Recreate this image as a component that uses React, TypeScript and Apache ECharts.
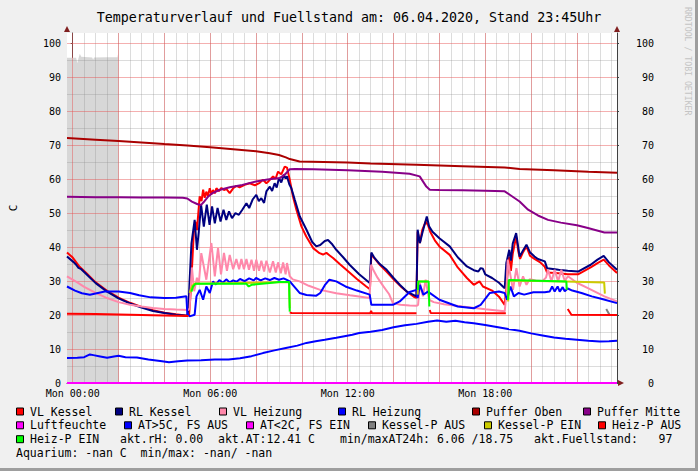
import React, { useEffect, useRef } from 'react';
import * as echarts from 'echarts';

const TITLE = 'Temperaturverlauf und Fuellstand am: 06.04.2020, Stand 23:45Uhr';
const WATERMARK = 'RRDTOOL / TOBI OETIKER';
const UNIT = 'C';
const T_START = -0.25;
const T_END = 23.75;
const Y_MAX = 103;
const xLabelHours = [0, 6, 12, 18];
const xLabelText = ['Mon 00:00', 'Mon 06:00', 'Mon 12:00', 'Mon 18:00'];
const yTickValues = [0, 10, 20, 30, 40, 50, 60, 70, 80, 90, 100];

// [hour, value] pairs
const fuellstand = [[-0.25,95.7],[0.15,95.7],[0.2,94.1],[0.25,95.6],[0.31,96.9],[0.37,96.0],[0.85,95.8],[0.89,95.1],[0.93,95.8],[1.5,95.9],[1.95,95.9],[1.98,96.9],[2.0,96.9]];

const vlKessel = [[-0.25,38.4],[0,36.9],[0.3,34.2],[0.6,32.3],[1.0,29.6],[1.5,27.1],[2.0,25.1],[2.5,23.6],[3.0,22.4],[3.5,21.4],[4.0,20.7],[4.5,20.2],[5.0,19.8],[5.08,20.2],[5.15,27],[5.22,36],[5.28,44],[5.35,47.5],[5.42,45],[5.54,54.9],[5.62,53.5],[5.69,56.9],[5.76,54.5],[5.83,56.3],[5.9,55],[5.98,57.3],[6.05,55.5],[6.12,56.8],[6.2,55.8],[6.27,57.3],[6.38,56.5],[6.49,57.4],[6.6,56.8],[6.7,57.1],[6.85,55.9],[7.0,57.3],[7.14,58],[7.28,57.6],[7.5,58.3],[7.72,58.8],[7.95,58.2],[8.16,58.9],[8.3,59.8],[8.45,58.8],[8.55,59.4],[8.74,60.8],[8.85,60.1],[8.96,62.2],[9.1,61.4],[9.25,63.7],[9.35,63.4],[9.47,59.8],[9.61,54.9],[9.76,51],[9.98,46.1],[10.19,43.1],[10.49,39.7],[10.77,38.2],[10.92,37.8],[11.07,38.3],[11.2,37.6],[11.36,36.8],[11.65,35],[11.94,33.3],[12.4,30.6],[12.81,28.4],[12.97,27.6],[13.03,37.8],[13.15,36.8],[13.4,34.8],[13.7,32.7],[14.0,30.5],[14.3,28.5],[14.6,26.8],[14.9,25.3],[15.0,25.1],[15.05,44.5],[15.15,41.2],[15.25,45],[15.4,47.5],[15.5,46.5],[15.6,44.5],[15.8,42],[16.0,40.2],[16.45,37.7],[16.8,34],[17.2,30.9],[17.5,28.9],[17.75,29.9],[17.9,28.4],[18.3,27.2],[18.6,25.4],[18.85,23],[18.92,28],[19.0,35],[19.05,37.2],[19.12,33],[19.2,38],[19.35,43.1],[19.45,38.5],[19.52,36.5],[19.65,38.5],[19.8,40.2],[19.95,37.5],[20.15,36.5],[20.4,35.5],[20.6,34.2],[20.7,32.5],[21.2,32.3],[21.6,32],[22.05,32],[22.6,34],[22.9,35.3],[23.17,36.3],[23.4,34.6],[23.75,32.4]];

const rlKessel = [[-0.25,37.2],[0.05,35.5],[0.15,34.8],[0.25,33.9],[0.35,33.6],[0.6,32],[1.0,29.4],[1.5,26.9],[2.0,24.9],[2.5,23.4],[3.0,22.2],[3.5,21.2],[4.0,20.6],[4.5,20.1],[5.0,19.8],[5.05,22],[5.1,30],[5.18,41],[5.32,48],[5.42,39.2],[5.5,44.5],[5.6,52.5],[5.72,46],[5.85,52.5],[5.97,46.5],[6.08,52],[6.2,47],[6.32,51.5],[6.45,47.5],[6.58,51],[6.7,48],[6.82,50.5],[6.95,48.5],[7.1,50],[7.25,49.5],[7.4,51],[7.58,52.9],[7.7,51.5],[7.85,54],[8.01,55.4],[8.12,53.5],[8.23,54.4],[8.35,53],[8.45,56.4],[8.6,57.8],[8.7,56.5],[8.81,58.8],[8.9,57.5],[9.0,60.3],[9.1,59],[9.21,61.3],[9.29,60.2],[9.35,60.8],[9.45,58.5],[9.54,57.3],[9.69,53.9],[9.91,49],[10.2,45.1],[10.45,41.5],[10.63,40.2],[10.8,40.6],[11.0,41.8],[11.14,42.1],[11.3,41],[11.5,39.2],[11.8,37],[12.08,34.8],[12.5,32],[12.96,29.4],[13.03,38.4],[13.15,37],[13.4,35],[13.7,33.3],[14.0,30.9],[14.27,28.9],[14.6,26.8],[15.0,25.5],[15.05,45.1],[15.15,41.2],[15.25,44],[15.45,49],[15.55,46.1],[15.7,44.5],[16.0,42.6],[16.45,40.2],[16.8,37],[17.2,34.3],[17.5,33.2],[17.7,32.8],[17.8,33.8],[17.9,33.6],[18.0,32],[18.3,30.9],[18.6,29.5],[18.85,27.9],[18.92,35.3],[19.05,39.2],[19.12,36],[19.2,41],[19.35,44.1],[19.5,37.2],[19.65,39],[19.8,40.7],[19.95,38.5],[20.15,37.2],[20.3,36.5],[20.6,35.8],[20.7,33.8],[21.2,33.3],[21.6,33],[22.05,32.8],[22.6,34.8],[22.9,36.3],[23.17,37.4],[23.4,35.5],[23.75,33.3]];

const vlHeizung = [[-0.25,31.4],[0.2,29.6],[0.5,28.3],[1.0,26.5],[1.5,25],[2.0,23.8],[2.5,23],[3.0,22.5],[3.5,22.1],[4.0,21.8],[4.5,21.6],[5.05,21.5],[5.1,22],[5.2,34],[5.3,27],[5.42,31],[5.5,29],[5.61,38.2],[5.83,30.4],[6.05,41.2],[6.2,31.4],[6.34,39.7],[6.47,32],[6.6,38.3],[6.73,33],[6.85,37.7],[7.0,33.5],[7.14,36.5],[7.26,33.5],[7.36,36.5],[7.47,33.5],[7.58,36.5],[7.69,33.3],[7.8,36.3],[7.91,33],[8.01,36.3],[8.13,33],[8.23,36],[8.35,32.8],[8.45,36],[8.6,32.5],[8.74,35.8],[8.86,32.5],[8.96,35.5],[9.08,32.3],[9.18,35.5],[9.29,32],[9.35,35.3],[9.47,31.4],[9.6,30.5],[9.9,29.9],[10.3,28.6],[10.8,27.4],[11.5,26.4],[12.1,25.8],[12.95,25],[13.02,34.8],[13.1,33.5],[13.3,31],[13.55,28.5],[13.8,26.2],[13.97,23.5],[14.3,23],[14.7,22.8],[15.0,22.7],[15.07,23],[15.15,29.4],[15.28,25.5],[15.4,30.4],[15.55,24.5],[15.75,23.8],[16.2,23.2],[17.0,22.5],[18.0,21.7],[18.85,21.1],[18.92,26],[18.98,36.3],[19.21,27.4],[19.36,33.8],[19.5,28.4],[19.65,31.4],[19.8,28.9],[19.94,30.5],[20.2,30.2],[20.5,30],[20.65,31],[20.74,33.3],[20.89,29.9],[21.03,33.3],[21.18,29.9],[21.32,33.3],[21.47,30],[21.61,31.4],[22.0,29.5],[22.48,27.9],[23.2,25.5],[23.75,24]];

const rlHeizung = [[-0.25,28.4],[0.1,27.2],[0.4,26.4],[0.75,26],[1.1,26.5],[1.4,26.9],[2.0,26.9],[2.5,26.5],[2.9,25.8],[3.4,25.2],[4.0,25],[4.5,25.1],[4.96,25.5],[5.0,20.5],[5.1,19.6],[5.32,20.1],[5.4,25.5],[5.54,27.4],[5.69,24.5],[5.83,28.4],[5.98,26.5],[6.12,29.9],[6.25,29],[6.4,30.3],[6.55,29.5],[6.7,30.5],[6.85,29.6],[7.0,30.2],[7.15,29.8],[7.3,30.6],[7.5,30],[7.7,30.8],[7.9,30.2],[8.0,30.9],[8.2,30.2],[8.4,30.8],[8.6,30.3],[8.8,30.9],[9.0,30.4],[9.2,30.8],[9.32,30.4],[9.47,29.9],[9.9,26.5],[10.2,25.9],[10.63,25.7],[10.8,26.5],[11.0,28.8],[11.2,30.4],[11.5,29.9],[11.9,28.4],[12.4,27.2],[12.96,26],[13.03,23],[13.5,23],[13.97,23],[14.27,24],[14.7,26.8],[15.0,27.4],[15.05,25],[15.15,28.9],[15.3,26],[15.5,26.9],[16.0,24.5],[16.8,22.5],[17.5,22],[17.8,23],[18.2,26.5],[18.6,26.9],[18.85,26.5],[18.95,24.5],[19.1,28.4],[19.25,25.5],[19.45,26.5],[19.7,26],[20.1,26.7],[20.6,26.7],[20.81,26.9],[20.92,28.4],[21.03,26.9],[21.16,28.4],[21.25,26.9],[21.38,28.2],[21.47,27],[21.6,27.8],[21.8,27.2],[22.2,26.5],[22.65,25.5],[23.1,24.7],[23.75,23.5]];

const pufferOben = [[-0.25,72.1],[1,71.6],[2,71.2],[3,70.8],[4,70.3],[5,69.9],[6,69.4],[7,68.8],[8,68.2],[8.6,67.6],[9.0,67.1],[9.3,66.4],[9.47,65.9],[9.9,65.2],[12,64.9],[13,64.6],[15,64.2],[17,63.8],[18.85,63.4],[19.5,63.0],[21,62.6],[22.5,62.2],[23.75,61.9]];

const pufferMitte = [[-0.25,54.8],[1,54.7],[2,54.7],[3,54.6],[4,54.6],[4.8,54.5],[5.0,54.3],[5.2,53.4],[5.45,52.6],[5.6,52.4],[5.75,53.5],[5.9,54.8],[6.1,55.9],[6.4,56.8],[6.85,57.6],[7.4,58.3],[8,59.3],[8.5,59.9],[9.03,60.3],[9.25,61.3],[9.47,62.9],[9.7,63],[10.5,62.9],[12,62.6],[13.5,62.2],[14.7,61.6],[15.14,60.8],[15.43,57.8],[15.58,56.9],[16,56.8],[17,56.7],[18.0,56.6],[18.85,56.4],[19.07,55.4],[19.5,53.4],[19.87,51],[20.3,49.3],[20.74,48],[21.3,47.2],[22.0,46.4],[22.48,45.6],[23.2,44.3],[23.75,44.3]];

const luftfeuchte = [[-0.25,0],[23.75,0]];

const aussenTemp = [[-0.25,7.35],[0.2,7.4],[0.5,7.6],[0.75,8.4],[0.9,8.2],[1.2,7.8],[1.5,7.4],[1.8,7.8],[2.0,8.0],[2.3,7.6],[2.8,7.5],[3.3,6.9],[3.9,6.4],[4.2,6.1],[4.6,6.4],[5.0,6.6],[5.6,6.7],[6.2,6.9],[6.8,6.9],[7.3,7.3],[7.8,7.9],[8.3,8.8],[8.8,9.6],[9.3,10.3],[9.8,11.0],[10.2,11.8],[10.6,12.3],[11.0,12.7],[11.5,13.3],[11.8,13.7],[12.2,14.2],[12.5,14.7],[13.0,15.1],[13.5,15.6],[14.0,16.4],[14.5,17.0],[15.0,17.4],[15.5,18.0],[15.9,18.4],[16.3,18.0],[16.7,18.3],[17.1,17.9],[17.5,17.6],[18.0,17.1],[18.5,16.5],[19.0,15.9],[19.5,15.4],[20.0,14.6],[20.5,14.0],[21.0,13.4],[21.5,13.0],[22.0,12.7],[22.5,12.4],[23.0,12.2],[23.4,12.3],[23.75,12.4]];

const kesselPAus = [[23.28,21.8],[23.43,20.0],[23.75,20.0]];
const kesselPEin = [[5.1,26.5],[5.2,28.4],[5.3,29.2],[9.44,29.7],[9.47,22],[9.48,null],[15.05,26],[15.08,29.9],[15.53,29.9],[15.55,null],[19.0,24],[19.03,30.2],[21.5,29.9],[23.19,29.6],[23.22,26.3]];
const heizPAus = [[-0.25,20.4],[1,20.3],[2.5,20.1],[4,19.9],[5.05,19.7],[5.1,null],[9.47,20.8],[9.55,20.6],[12.98,20.5],[13.02,21.2],[13.06,20.5],[15.0,20.5],[15.02,null],[15.58,21.5],[15.62,20.6],[18.9,20.5],[18.92,null],[21.6,21.8],[21.76,20.1],[23.75,20.0]];
const heizPEin = [[5.18,26.9],[5.25,28.4],[5.35,29.2],[7.58,29.2],[7.68,28.4],[7.8,28.9],[8.6,29.4],[9.0,29.7],[9.44,29.7],[9.47,21],[9.48,null],[15.07,27.4],[15.08,29.9],[15.53,29.9],[15.56,22.5],[15.57,null],[19.0,24.5],[19.03,30.3],[21.54,29.9],[21.56,27.4]];

// legend
const legendRow1 = [['VL Kessel', '#ff0000'], ['RL Kessel', '#000080'], ['VL Heizung', '#ff88aa'], ['RL Heizung', '#0000ff'], ['Puffer Oben', '#aa0000'], ['Puffer Mitte', '#880088']];
const legendRow2 = [['Luftfeuchte', '#ff00ff'], ['AT>5C, FS AUS', '#0000ff'], ['AT<2C, FS EIN', '#ff00ff'], ['Kessel-P AUS', '#808080'], ['Kessel-P EIN', '#cccc00'], ['Heiz-P AUS', '#ff0000']];
const legendRow3 = [['Heiz-P EIN', '#00ff00']];
const infoRow3 = ['akt.rH: 0.00', 'akt.AT:12.41 C', 'min/maxAT24h: 6.06 /18.75', 'akt.Fuellstand:   97'];
const infoRow4 = ['Aquarium: -nan C  min/max: -nan/ -nan'];

// layout
const row1X = [16, 115, 219, 338, 472, 583];
const row2X = [16, 124, 246, 368, 484, 598];
const row3BoxX = [16];
const row3TextX = [120, 218, 340, 534];
const rowY = [411.5, 425.3, 439.2, 453];

const FONT = "'DejaVu Sans Mono', monospace";
const MINOR = 'rgba(140,140,140,0.3)';
const MAJOR = 'rgba(230,80,80,0.45)';
const AXIS = '#404040';
const ARROW = '#801f1f';

function buildOption() {
  const minorX: number[] = [];
  for (let h = 0.5; h < T_END; h += 0.5) minorX.push(h);
  const majorX: number[] = [];
  for (let h = 0; h < T_END; h += 2) majorX.push(h);
  const minorY: number[] = [];
  for (let v = 5; v <= 100; v += 10) minorY.push(v);
  const majorY = yTickValues.filter((v) => v > 0);

  const line = (name: string, color: string, data: any[], extra: any = {}) => ({
    type: 'line', name, data, showSymbol: false, symbol: 'none', connectNulls: false,
    z: 3, silent: true, animation: false, emphasis: { disabled: true },
    lineStyle: { width: 2, color }, itemStyle: { color }, ...extra,
  });

  const gridSeries = (vals: { x: number[]; y: number[] }, color: string, z: number) => ({
    type: 'line', data: [], z, silent: true, animation: false,
    markLine: {
      z, silent: true, animation: false, symbol: ['none', 'none'], label: { show: false },
      emphasis: { disabled: true },
      lineStyle: { color, width: 1, type: 'solid' },
      data: [...vals.x.map((v) => ({ xAxis: v })), ...vals.y.map((v) => ({ yAxis: v }))],
    },
  });

  const graphics: any[] = [];
  graphics.push({ type: 'rect', shape: { x: 0, y: 468, width: 698, height: 3 }, style: { fill: '#9e9e9e' }, silent: true });
  graphics.push({ type: 'rect', shape: { x: 695, y: 0, width: 3, height: 471 }, style: { fill: '#9e9e9e' }, silent: true });
  graphics.push({ type: 'text', x: 349, y: 17, style: { text: TITLE, fontFamily: FONT, fontSize: 13.3, fill: '#000', align: 'center', verticalAlign: 'middle' }, silent: true });
  graphics.push({ type: 'text', x: 688, y: 7, rotation: -Math.PI / 2, style: { text: WATERMARK, fontFamily: FONT, fontSize: 8.2, fill: '#c4c4c4', align: 'left', verticalAlign: 'middle' }, silent: true });
  graphics.push({ type: 'text', x: 13, y: 208, rotation: Math.PI / 2, style: { text: UNIT, fontFamily: FONT, fontSize: 11, fill: '#000', align: 'center', verticalAlign: 'middle' }, silent: true });
  // arrows
  graphics.push({ type: 'polygon', shape: { points: [[64, 32], [70, 32], [67, 26]] }, style: { fill: ARROW }, silent: true });
  graphics.push({ type: 'polygon', shape: { points: [[614, 32], [620, 32], [617, 26]] }, style: { fill: ARROW }, silent: true });
  graphics.push({ type: 'polygon', shape: { points: [[618, 380], [618, 386], [624, 383]] }, style: { fill: ARROW }, silent: true });

  const addBox = (x: number, y: number, color: string, label: string) => {
    graphics.push({ type: 'rect', shape: { x: x + 0.5, y: y - 3.5, width: 7, height: 7 }, style: { fill: color, stroke: '#000', lineWidth: 1 }, silent: true });
    graphics.push({ type: 'text', x: x + 14, y, style: { text: label, fontFamily: FONT, fontSize: 11.5, fill: '#000', align: 'left', verticalAlign: 'middle' }, silent: true });
  };
  legendRow1.forEach(([l, c], i) => addBox(row1X[i], rowY[0], c, l));
  legendRow2.forEach(([l, c], i) => addBox(row2X[i], rowY[1], c, l));
  legendRow3.forEach(([l, c], i) => addBox(row3BoxX[i], rowY[2], c, l));
  infoRow3.forEach((t, i) => graphics.push({ type: 'text', x: row3TextX[i], y: rowY[2], style: { text: t, fontFamily: FONT, fontSize: 11.5, fill: '#000', align: 'left', verticalAlign: 'middle' }, silent: true }));
  infoRow4.forEach((t) => graphics.push({ type: 'text', x: 16, y: rowY[3], style: { text: t, fontFamily: FONT, fontSize: 11.5, fill: '#000', align: 'left', verticalAlign: 'middle' }, silent: true }));

  const yAxisBase = (pos: 'left' | 'right', labelExtra: any) => ({
    type: 'value', min: 0, max: Y_MAX, position: pos,
    axisLine: { show: true, lineStyle: { color: AXIS, width: 1 } },
    axisTick: { show: true, length: 2, customValues: yTickValues, lineStyle: { color: AXIS } },
    splitLine: { show: false },
    axisLabel: { customValues: yTickValues, fontFamily: FONT, fontSize: 10, color: '#000', ...labelExtra },
  });

  return {
    animation: false,
    backgroundColor: '#f0f0f0',
    grid: { left: 67, top: 33, width: 550, height: 350, backgroundColor: '#ffffff', show: true, borderWidth: 0 },
    xAxis: {
      type: 'value', min: T_START, max: T_END,
      axisLine: { show: true, onZero: false, lineStyle: { color: AXIS, width: 1 } },
      axisTick: { show: false },
      splitLine: { show: false },
      axisLabel: {
        customValues: xLabelHours, fontFamily: FONT, fontSize: 10, color: '#000', margin: 5,
        formatter: (v: number) => {
          const i = xLabelHours.findIndex((h) => Math.abs(h - v) < 1e-6);
          return i >= 0 ? xLabelText[i] : '';
        },
      },
    },
    yAxis: [yAxisBase('left', { margin: 6 }), yAxisBase('right', { margin: 37, align: 'right' })],
    graphic: graphics,
    series: [
      line('Fuellstand', '#d7d7d7', fuellstand, { z: 1, lineStyle: { width: 0 }, areaStyle: { color: '#d7d7d7', opacity: 1 } }),
      gridSeries({ x: minorX, y: minorY }, MINOR, 2),
      gridSeries({ x: majorX, y: majorY }, MAJOR, 2),
      line('VL Kessel', '#ff0000', vlKessel),
      line('RL Kessel', '#000080', rlKessel),
      line('VL Heizung', '#ff88aa', vlHeizung),
      line('RL Heizung', '#0000ff', rlHeizung),
      line('Puffer Oben', '#aa0000', pufferOben),
      line('Puffer Mitte', '#880088', pufferMitte),
      line('Luftfeuchte', '#ff00ff', luftfeuchte, { clip: false }),
      line('AT>5C, FS AUS', '#0000ff', aussenTemp),
      line('Kessel-P AUS', '#808080', kesselPAus),
      line('Kessel-P EIN', '#cccc00', kesselPEin),
      line('Heiz-P AUS', '#ff0000', heizPAus),
      line('Heiz-P EIN', '#00ff00', heizPEin),
    ],
  };
}

export default function App() {
  const ref = useRef<HTMLDivElement>(null);
  useEffect(() => {
    if (!ref.current) return;
    const chart = echarts.init(ref.current, null, { renderer: 'svg' });
    chart.setOption(buildOption() as any);
    return () => chart.dispose();
  }, []);
  return <div ref={ref} style={{ position: 'absolute', left: 0, top: 0, width: 698, height: 471 }} />;
}
